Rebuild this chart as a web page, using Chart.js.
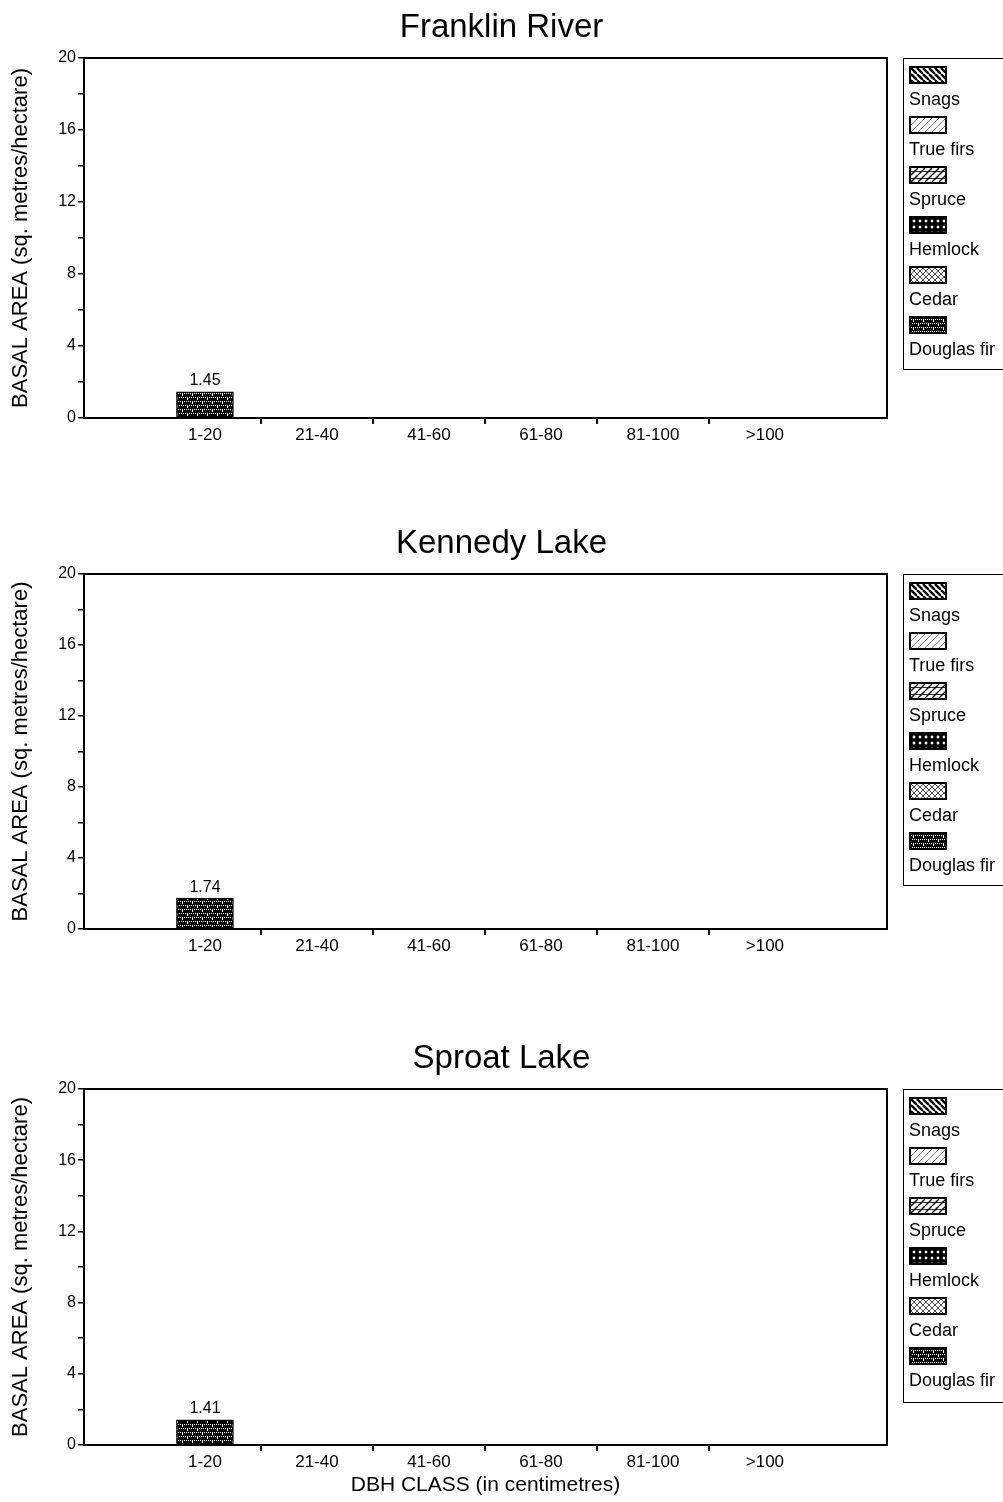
<!DOCTYPE html>
<html>
<head>
<meta charset="utf-8">
<script src="https://cdn.jsdelivr.net/npm/chart.js@4.4.1/dist/chart.umd.min.js"></script>
<style>
    body { margin: 0; background: #fff; }
    #page { position: relative; width: 1003px; height: 1502px; overflow: hidden; font-family: "Liberation Sans", Arial, sans-serif; }
    .panel { position: absolute; left: 0; width: 1003px; }
    .legend { position: absolute; left: 903px; width: 120px; border: 1.5px solid #000; box-sizing: border-box; }
    .legend .item { height: 50px; position: relative; }
    .legend canvas { position: absolute; left: 5px; top: 7px; border: 2px solid #000; }
    .legend span { position: absolute; left: 5px; top: 30px; font-size: 18px; color: #000; line-height: 20px; }
</style>
</head>
<body>
<div id="page"></div>
<script>
// DBH classes along the x axis
const dbhClasses = ['1-20', '21-40', '41-60', '61-80', '81-100', '>100'];
const species = ['Snags', 'True firs', 'Spruce', 'Hemlock', 'Cedar', 'Douglas fir'];
const sites = ['Franklin River', 'Kennedy Lake', 'Sproat Lake'];

// basal area (sq. m / ha) per DBH class
const franklinDouglasFir = [1.45, 0, 0, 0, 0, 0];
const kennedyDouglasFir = [1.74, 0, 0, 0, 0, 0];
const sproatDouglasFir = [1.41, 0, 0, 0, 0, 0];
const noStems = [0, 0, 0, 0, 0, 0]; // snags, true firs, spruce, hemlock, cedar

const yTicks = [0, 4, 8, 12, 16, 20];

// page layout of the three panels
const panelTops = [0, 516, 1031];
const panelHeights = [460, 455, 471];
const xAxisHeights = [42, 42, 57];
const legendHeights = [312, 312, 314];

const FONT = '"Liberation Sans", Arial, sans-serif';

function makePattern(name) {
    const c = document.createElement('canvas');
    const g = c.getContext('2d');
    if (name === 'Snags') {
        c.width = 6; c.height = 6;
        g.fillStyle = '#fff'; g.fillRect(0, 0, 6, 6);
        g.strokeStyle = '#000'; g.lineWidth = 2.4;
        for (let k = -6; k <= 6; k += 6) {
            g.beginPath(); g.moveTo(k, 0); g.lineTo(k + 6, 6); g.stroke();
        }
    } else if (name === 'True firs') {
        c.width = 7; c.height = 7;
        g.fillStyle = '#fff'; g.fillRect(0, 0, 7, 7);
        g.strokeStyle = '#555'; g.lineWidth = 0.7;
        for (let k = -7; k <= 7; k += 7) {
            g.beginPath(); g.moveTo(k, 7); g.lineTo(k + 7, 0); g.stroke();
        }
    } else if (name === 'Spruce') {
        c.width = 7; c.height = 7;
        g.fillStyle = '#fff'; g.fillRect(0, 0, 7, 7);
        g.strokeStyle = '#000'; g.lineWidth = 1.4;
        for (let k = -7; k <= 7; k += 7) {
            g.beginPath(); g.moveTo(k, 7); g.lineTo(k + 7, 0); g.stroke();
        }
        g.lineWidth = 0.8;
        g.beginPath(); g.moveTo(0, 3.5); g.lineTo(7, 3.5); g.stroke();
    } else if (name === 'Hemlock') {
        c.width = 6; c.height = 6;
        g.fillStyle = '#000'; g.fillRect(0, 0, 6, 6);
        g.fillStyle = '#fff';
        g.beginPath(); g.moveTo(3, 1.3); g.lineTo(4.7, 3); g.lineTo(3, 4.7); g.lineTo(1.3, 3); g.fill();
    } else if (name === 'Cedar') {
        c.width = 6; c.height = 6;
        g.fillStyle = '#fff'; g.fillRect(0, 0, 6, 6);
        g.strokeStyle = '#222'; g.lineWidth = 0.8;
        g.beginPath(); g.moveTo(0, 0); g.lineTo(6, 6); g.stroke();
        g.beginPath(); g.moveTo(6, 0); g.lineTo(0, 6); g.stroke();
    } else {
        // Douglas fir: black with white brick lines
        c.width = 10; c.height = 8;
        g.fillStyle = '#000'; g.fillRect(0, 0, 10, 8);
        g.fillStyle = '#fff';
        for (let x = 0; x < 10; x += 2) {
            g.fillRect(x, 1, 1, 1);
            g.fillRect(x + 1, 5, 1, 1);
        }
        g.fillRect(2, 2, 1, 2);
        g.fillRect(7, 6, 1, 2);
    }
    return g.createPattern(c, 'repeat');
}

const fills = species.map(makePattern);

const frame = {
    id: 'frame',
    afterDraw(chart) {
        const a = chart.chartArea;
        const ctx = chart.ctx;
        ctx.save();
        ctx.strokeStyle = '#000';
        ctx.lineWidth = 2;
        ctx.strokeRect(a.left, a.top, a.right - a.left, a.bottom - a.top);
        ctx.restore();
    }
};

const totals = {
    id: 'totals',
    afterDatasetsDraw(chart) {
        const ctx = chart.ctx;
        const xs = chart.scales.x, ys = chart.scales.y;
        ctx.save();
        ctx.font = '16px ' + FONT;
        ctx.fillStyle = '#000';
        ctx.textAlign = 'center';
        ctx.textBaseline = 'bottom';
        dbhClasses.forEach((c, i) => {
            let sum = 0;
            chart.data.datasets.forEach(d => { sum += d.data[i].y; });
            if (sum > 0) {
                ctx.fillText(sum.toFixed(2), xs.getPixelForValue(i), ys.getPixelForValue(sum) - 3);
            }
        });
        ctx.restore();
    }
};

function buildLegend(top, height) {
    const box = document.createElement('div');
    box.className = 'legend';
    box.style.top = top + 'px';
    box.style.height = height + 'px';
    species.forEach((s, i) => {
        const item = document.createElement('div');
        item.className = 'item';
        const sw = document.createElement('canvas');
        sw.width = 34; sw.height = 14;
        const g = sw.getContext('2d');
        g.fillStyle = fills[i];
        g.fillRect(0, 0, 34, 14);
        const label = document.createElement('span');
        label.textContent = s;
        item.appendChild(sw);
        item.appendChild(label);
        box.appendChild(item);
    });
    document.getElementById('page').appendChild(box);
}

function drawSite(n, douglasFir) {
    const panel = document.createElement('div');
    panel.className = 'panel';
    panel.style.top = panelTops[n] + 'px';
    panel.style.height = panelHeights[n] + 'px';
    const canvas = document.createElement('canvas');
    panel.appendChild(canvas);
    document.getElementById('page').appendChild(panel);

    const series = [noStems, noStems, noStems, noStems, noStems, douglasFir];
    const datasets = species.map((s, i) => ({
        label: s,
        data: series[i].map((v, k) => ({ x: k, y: v })),
        backgroundColor: fills[i],
        borderColor: '#000',
        borderWidth: 1.5,
        borderSkipped: false,
        barThickness: 57
    }));

    new Chart(canvas, {
        type: 'bar',
        data: { datasets: datasets },
        plugins: [frame, totals],
        options: {
            responsive: true,
            maintainAspectRatio: false,
            animation: false,
            layout: { padding: 0 },
            plugins: {
                legend: { display: false },
                tooltip: { enabled: false },
                title: {
                    display: true,
                    text: sites[n],
                    color: '#000',
                    font: { family: FONT, size: 33, weight: 'normal', lineHeight: 1 },
                    padding: { top: 11, bottom: 14 }
                }
            },
            scales: {
                x: {
                    type: 'linear',
                    stacked: true,
                    offset: false,
                    min: -1.08,
                    max: 6.09,
                    afterBuildTicks: s => { s.ticks = dbhClasses.map((c, i) => ({ value: i })); },
                    afterFit: s => { s.height = xAxisHeights[n]; },
                    ticks: {
                        callback: (v) => dbhClasses[v],
                        color: '#000',
                        font: { family: FONT, size: 17 },
                        padding: 1,
                        maxRotation: 0,
                        autoSkip: false
                    },
                    grid: {
                        offset: true,
                        drawOnChartArea: false,
                        tickLength: 6,
                        lineWidth: 2,
                        color: c => (c.index === undefined || c.index === 0) ? 'rgba(0,0,0,0)' : '#000'
                    },
                    border: { color: '#000', width: 2 },
                    title: {
                        display: n === 2,
                        text: 'DBH CLASS (in centimetres)',
                        color: '#000',
                        font: { family: FONT, size: 21 },
                        padding: { top: 5 }
                    }
                },
                y: {
                    stacked: true,
                    min: 0,
                    max: 20,
                    afterFit: s => { s.width = 84; },
                    ticks: {
                        stepSize: 2,
                        callback: v => yTicks.includes(v) ? v : '',
                        color: '#000',
                        font: { family: FONT, size: 16 },
                        padding: 2
                    },
                    grid: { drawOnChartArea: false, tickLength: 6, lineWidth: 1.5, color: '#000' },
                    border: { color: '#000', width: 2 },
                    title: {
                        display: true,
                        text: 'BASAL AREA (sq. metres/hectare)',
                        color: '#000',
                        font: { family: FONT, size: 22 },
                        padding: { top: 8 }
                    }
                },
                // empty right-hand scale that keeps room for the legend box
                room: {
                    position: 'right',
                    min: 0,
                    max: 20,
                    afterFit: s => { s.width = 116; },
                    ticks: { display: false },
                    grid: { display: false },
                    border: { display: false }
                }
            }
        }
    });
    buildLegend(panelTops[n] + 58, legendHeights[n]);
}

drawSite(0, franklinDouglasFir);
drawSite(1, kennedyDouglasFir);
drawSite(2, sproatDouglasFir);
</script>
</body>
</html>
